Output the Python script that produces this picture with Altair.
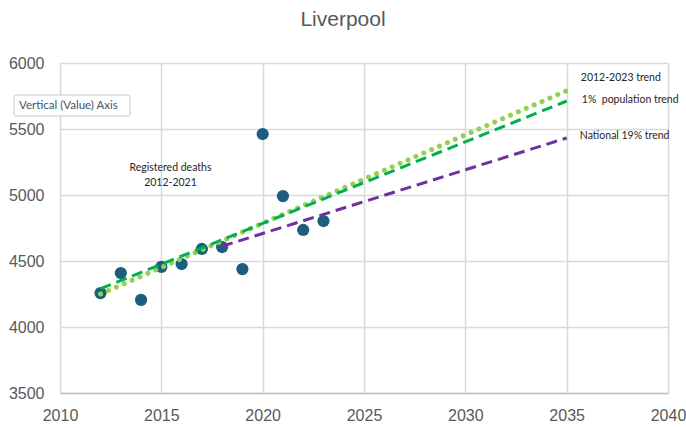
import altair as alt
import pandas as pd

# Registered deaths (dots)
years = [2012, 2013, 2014, 2015, 2016, 2017, 2018, 2019, 2020, 2021, 2022, 2023]
deaths = [4257, 4409, 4205, 4455, 4477, 4591, 4606, 4439, 5462, 4992, 4735, 4803]

# Trend lines (end points)
trend_names = ["2012-2023 trend", "2012-2023 trend", "1% population trend", "1% population trend",
               "National 19% trend", "National 19% trend"]
trend_years = [2012, 2035, 2012, 2035, 2018, 2035]
trend_values = [4250, 5790, 4290, 5712, 4612, 5432]

# Annotation labels
label_texts = ["2012-2023 trend", "1%\u00a0 population trend", "National 19% trend"]
label_years = [2035.7, 2035.75, 2035.65]
label_values = [5886, 5722, 5447]

note_text = ["Registered deaths", "2012-2021"]
note_year = [2015.45, 2015.45]
note_value = [5205, 5092]

FONT = "Liberation Sans Narrow, Liberation Sans"
GRAY = "#595959"

pts = pd.DataFrame({"year": years, "deaths": deaths})
tr = pd.DataFrame({"name": trend_names, "year": trend_years, "value": trend_values})
lab = pd.DataFrame({"t": label_texts, "year": label_years, "value": label_values})
note = pd.DataFrame({"t": note_text, "year": note_year, "value": note_value})

xs = alt.Scale(domain=[2010, 2040], nice=False, zero=False)
ys = alt.Scale(domain=[3500, 6000], nice=False, zero=False)

xenc = alt.X("year:Q", scale=xs, title=None,
             axis=alt.Axis(values=[2010, 2015, 2020, 2025, 2030, 2035, 2040], format="d",
                           grid=True, gridColor="#d9d9d9", gridWidth=1.5, ticks=False,
                           domainColor="#bfbfbf", domainWidth=1.5, labelFlush=False,
                           labelFont=FONT, labelFontSize=16, labelColor=GRAY, labelPadding=14))

points = alt.Chart(pts).mark_circle(size=150, color="#1b5e7e", opacity=1).encode(
    x=xenc,
    y=alt.Y("deaths:Q", scale=ys, title=None,
            axis=alt.Axis(values=[3500, 4000, 4500, 5000, 5500, 6000], format="d", grid=True,
                          gridColor="#d9d9d9", gridWidth=1.5, ticks=False, domain=False,
                          labelFlush=False,
                          labelFont=FONT, labelFontSize=16, labelColor=GRAY, labelPadding=16)),
)

def trend(name, color, dash, width, cap):
    return alt.Chart(tr[tr["name"] == name]).mark_line(
        color=color, strokeDash=dash, strokeWidth=width, strokeCap=cap
    ).encode(x=alt.X("year:Q", scale=xs), y=alt.Y("value:Q", scale=ys))

l1 = trend("2012-2023 trend", "#92d050", [0.1, 8.5], 5, "round")
l2 = trend("1% population trend", "#00b050", [11, 6], 3, "butt")
l3 = trend("National 19% trend", "#7030a0", [11, 6], 3, "butt")

labels = alt.Chart(lab).mark_text(align="left", baseline="middle", font="Lato",
                                  fontSize=10.5, color="#262626").encode(
    x=alt.X("year:Q", scale=xs), y=alt.Y("value:Q", scale=ys), text="t:N")

notes = alt.Chart(note).mark_text(align="center", baseline="middle", font="Lato",
                                  fontSize=10.5, color="#262626").encode(
    x=alt.X("year:Q", scale=xs), y=alt.Y("value:Q", scale=ys), text="t:N")

title = alt.Chart(pd.DataFrame({"t": ["Liverpool"]})).mark_text(
    align="center", baseline="middle", font="Liberation Sans", fontSize=21, color=GRAY
).encode(x=alt.value(283), y=alt.value(-43), text="t:N")

tip_box = alt.Chart(pd.DataFrame({"a": [1]})).mark_rect(
    fill="white", stroke="#c8c8c8", strokeWidth=1, cornerRadius=2
).encode(x=alt.value(-46), x2=alt.value(70), y=alt.value(32), y2=alt.value(53))
tip_text = alt.Chart(pd.DataFrame({"t": ["Vertical (Value) Axis"]})).mark_text(
    align="left", baseline="middle", font="Lato", fontSize=11.5, color="#44546a"
).encode(x=alt.value(-41), y=alt.value(42.5), text="t:N")

chart = alt.layer(points, l1, l2, l3, labels, notes, title, tip_box, tip_text).properties(
    width=608, height=330,
    padding={"left": 60, "top": 63, "right": 18, "bottom": 35},
    autosize=alt.AutoSizeParams(type="none"),
    background="white",
).configure_view(stroke=None)

chart.save("out.html", embed_options={"renderer": "svg", "actions": False})
